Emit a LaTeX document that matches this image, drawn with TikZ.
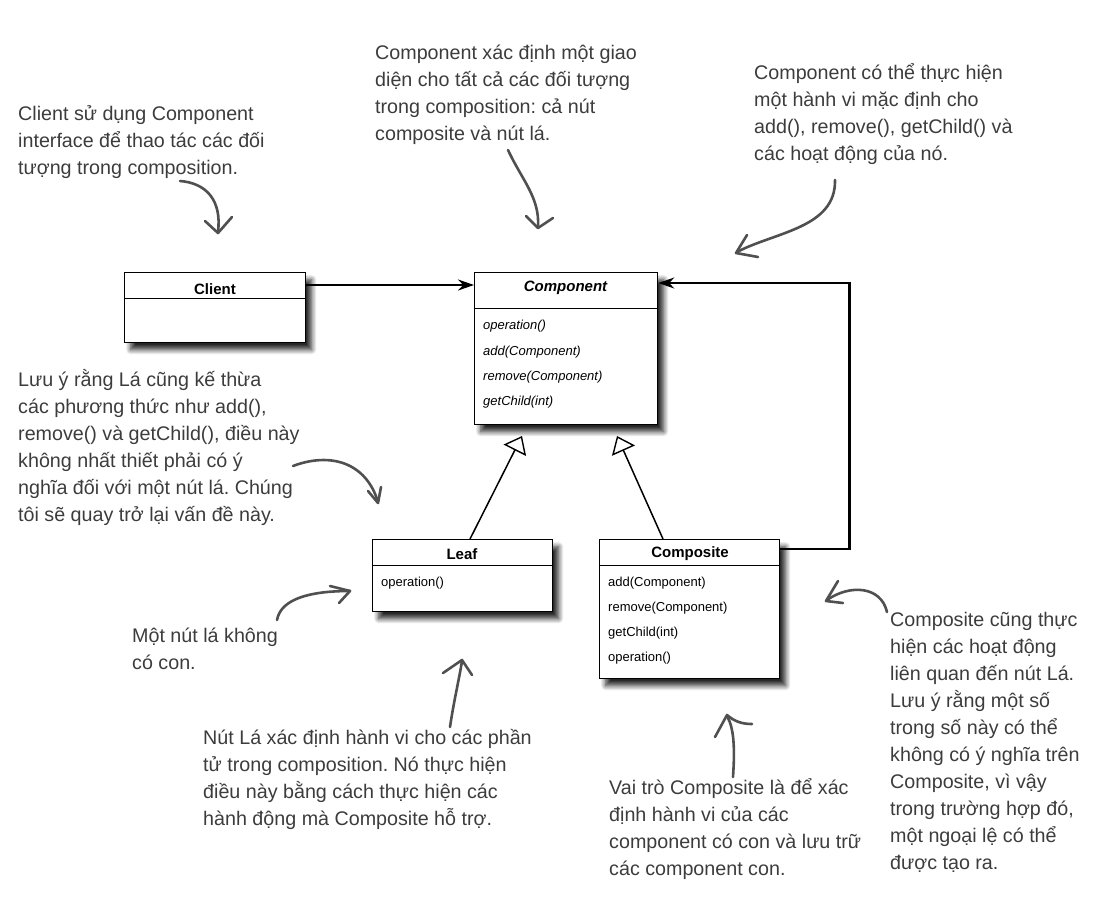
\documentclass[tikz,border=0pt]{standalone}
\usepackage{fontspec}
\setmainfont{Liberation Sans}
\usetikzlibrary{arrows.meta,shadows.blur}
\definecolor{notegray}{HTML}{3C3C3C}
\definecolor{handgray}{HTML}{505050}
\frenchspacing
\begin{document}
\begin{tikzpicture}[x=1pt,y=-1pt,
  note/.style={anchor=north west, inner sep=0pt, align=left, text=notegray,
    font=\frenchspacing\fontsize{19.7}{27}\selectfont},
  umlbox/.style={draw=black, line width=1.3pt, fill=white, anchor=north west, inner sep=0pt,
    blur shadow={shadow xshift=6pt, shadow yshift=-7pt, shadow blur radius=5pt, shadow blur steps=10, shadow opacity=85}},
  divider/.style={draw=black, line width=0.9pt},
  umltitle/.style={font=\bfseries\fontsize{15}{17}\selectfont, inner sep=0pt},
  meth/.style={anchor=west, inner sep=0pt, font=\fontsize{13}{15}\selectfont},
  absmeth/.style={meth, font=\itshape\fontsize{13}{15}\selectfont},
  assoc/.style={draw=black, line width=2.4pt, -{Stealth[length=16pt, width=11pt]}},
  gen/.style={draw=black, line width=1.5pt, -{Triangle[open, length=16pt, width=25pt, line width=1.4pt]}},
  hand/.style={draw=handgray, line width=2.6pt, line cap=round, line join=round},
]
\useasboundingbox (0,0) rectangle (1095,905);

% ---------- UML boxes ----------
\node[umlbox, minimum width=181pt, minimum height=70pt] (client) at (124,272) {};
\draw[divider] ([yshift=-26pt]client.north west) -- ([yshift=-26pt]client.north east);
\node[umltitle] (clientT) at (215,289) {Client};

\node[umlbox, minimum width=183pt, minimum height=152pt] (component) at (474,272) {};
\draw[divider] ([yshift=-36pt]component.north west) -- ([yshift=-36pt]component.north east);
\node[umltitle, font=\bfseries\itshape\fontsize{15}{17}\selectfont] (componentT) at (565.5,288) {Component};
\node[absmeth] (cm1) at (483,326) {operation()};
\node[absmeth] (cm2) at (483,352) {add(Component)};
\node[absmeth] (cm3) at (483,377) {remove(Component)};
\node[absmeth] (cm4) at (483,402) {getChild(int)};

\node[umlbox, minimum width=180pt, minimum height=72pt] (leaf) at (372,539) {};
\draw[divider] ([yshift=-26pt]leaf.north west) -- ([yshift=-26pt]leaf.north east);
\node[umltitle] (leafT) at (462,554) {Leaf};
\node[meth] (lm1) at (381,583) {operation()};

\node[umlbox, minimum width=180pt, minimum height=139pt] (composite) at (599,539) {};
\draw[divider] ([yshift=-26pt]composite.north west) -- ([yshift=-26pt]composite.north east);
\node[umltitle] (compositeT) at (690,554) {Composite};
\node[meth] (pm1) at (608,583) {add(Component)};
\node[meth] (pm2) at (608,608) {remove(Component)};
\node[meth] (pm3) at (608,633) {getChild(int)};
\node[meth] (pm4) at (608,658) {operation()};

% ---------- UML connectors ----------
\draw[assoc] ([yshift=-13pt]client.north east) -- ([yshift=-13pt]component.north west);
\draw[assoc] ([yshift=-10pt]composite.north east) -- ++(69,0) |- ([yshift=-11pt]component.north east);
\coordinate (g1) at (522,436);
\coordinate (g2) at (617,436);
\draw[gen] ([xshift=98pt]leaf.north west) -- (g1);
\draw[gen] ([xshift=64pt]composite.north west) -- (g2);

% ---------- notes ----------
\node[note] (n1) at (18,101) {\strut Client sử dụng Component\\interface để thao tác các đối\\tượng trong composition.};
\node[note] (n2) at (375,40) {\strut Component xác định một giao\\diện cho tất cả các đối tượng\\trong composition: cả nút\\composite và nút lá.};
\node[note] (n3) at (754,60) {\strut Component có thể thực hiện\\một hành vi mặc định cho\\add(), remove(), getChild() và\\các hoạt động của nó.};
\node[note] (n4) at (18,367) {\strut Lưu ý rằng Lá cũng kế thừa\\các phương thức như add(),\\remove() và getChild(), điều này\\không nhất thiết phải có ý\\nghĩa đối với một nút lá. Chúng\\tôi sẽ quay trở lại vấn đề này.};
\node[note] (n5) at (132,623) {\strut Một nút lá không\\có con.};
\node[note] (n6) at (203,725) {\strut Nút Lá xác định hành vi cho các phần\\tử trong composition. Nó thực hiện\\điều này bằng cách thực hiện các\\hành động mà Composite hỗ trợ.};
\node[note] (n7) at (609,775) {\strut Vai trò Composite là để xác\\định hành vi của các\\component có con và lưu trữ\\các component con.};
\node[note] (n8) at (890,607) {\strut Composite cũng thực\\hiện các hoạt động\\liên quan đến nút Lá.\\Lưu ý rằng một số\\trong số này có thể\\không có ý nghĩa trên\\Composite, vì vậy\\trong trường hợp đó,\\một ngoại lệ có thể\\được tạo ra.};

% ---------- hand-drawn arrows ----------
\draw[hand] (180,181) .. controls (206,183) and (222,200) .. (218,232);
\draw[hand] (205,221) -- (218,233) -- (232,217);

\draw[hand] (508,150) .. controls (522,180) and (540,198) .. (538,227);
\draw[hand] (526,216) -- (538,228) -- (553,218);

\draw[hand] (835,180) .. controls (836,228) and (775,232) .. (737,252);
\draw[hand] (747,235) -- (736,253) -- (758,257);

\draw[hand] (293,466) .. controls (330,452) and (366,462) .. (378,502);
\draw[hand] (368,491) -- (378,503) -- (381,487);

\draw[hand] (277,620) .. controls (281,598) and (312,591) .. (350,591);
\draw[hand] (330,586) -- (350,591) -- (339,603);

\draw[hand] (450,727) .. controls (454,700) and (459,680) .. (462,661);
\draw[hand] (443,673) -- (462,660) -- (472,675);

\draw[hand] (733,777) .. controls (735,748) and (734,728) .. (727,716);
\draw[hand] (715,737) -- (727,715) .. controls (735,722) and (743,724) .. (752,724);

\draw[hand] (887,612) .. controls (881,586) and (850,584) .. (827,600);
\draw[hand] (838,581) -- (826,601) -- (843,603);
\end{tikzpicture}
\end{document}
